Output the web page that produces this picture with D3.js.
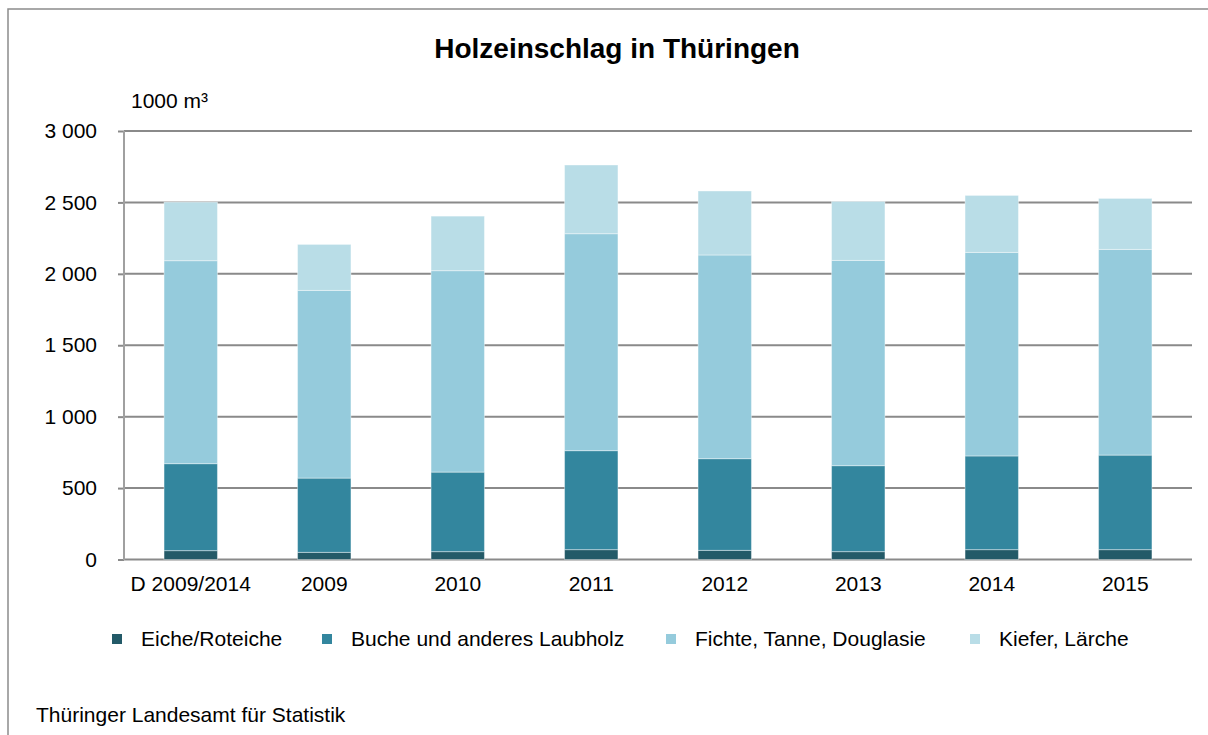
<!DOCTYPE html>
<html lang="de">
<head>
<meta charset="UTF-8">
<title>Holzeinschlag in Thüringen</title>
<script src="https://d3js.org/d3.v7.min.js"></script>
<style>
  body { margin: 0; background: #fff; }
  svg text { font-family: "Liberation Sans", Arial, sans-serif; fill: #000; }
</style>
</head>
<body>
<div id="chart"></div>
<script>
// categories and values (1000 m³)
var categories = ["D 2009/2014", "2009", "2010", "2011", "2012", "2013", "2014", "2015"];
var seriesNames = ["Eiche/Roteiche", "Buche und anderes Laubholz", "Fichte, Tanne, Douglasie", "Kiefer, Lärche"];
var eiche  = [62, 50, 55, 69, 64, 55, 69, 69];
var buche  = [609, 520, 557, 693, 642, 602, 656, 662];
var fichte = [1421, 1314, 1410, 1519, 1426, 1437, 1425, 1440];
var kiefer = [410, 322, 382, 481, 448, 413, 399, 357];
var yTicks = [0, 500, 1000, 1500, 2000, 2500, 3000];
var colors = ["#235a68", "#33869e", "#95cbdc", "#b9dde7"];

var width = 1208, height = 735;
var svg = d3.select("#chart").append("svg")
  .attr("width", width)
  .attr("height", height);

// outer frame (right and bottom edges fall outside the picture)
svg.append("rect")
  .attr("x", 8).attr("y", 9)
  .attr("width", 1205).attr("height", 760)
  .attr("fill", "none")
  .attr("stroke", "#8c8c8c")
  .attr("stroke-width", 1.5);

var x = d3.scaleBand()
  .domain(categories)
  .range([124, 1192])
  .paddingInner(0.6)
  .paddingOuter(0.3);

var y = d3.scaleLinear()
  .domain([0, 3000])
  .range([559.5, 131]);

var de = d3.formatLocale({ decimal: ",", thousands: " ", grouping: [3], currency: ["", ""] });
var fmt = de.format(",");

// gridlines
svg.append("g").selectAll("line")
  .data(yTicks)
  .enter().append("line")
  .attr("x1", 124).attr("x2", 1192)
  .attr("y1", function(d) { return y(d); })
  .attr("y2", function(d) { return y(d); })
  .attr("stroke", "#8a8a8a")
  .attr("stroke-width", 2);

// y axis
var yAxis = svg.append("g")
  .attr("transform", "translate(124,0)")
  .call(d3.axisLeft(y).tickValues(yTicks).tickFormat(fmt).tickSize(6).tickPadding(21));
yAxis.select(".domain").remove();
yAxis.selectAll(".tick line").attr("stroke", "#8a8a8a").attr("stroke-width", 2);
yAxis.selectAll("text").style("font-size", "21px").attr("fill", "#000");

svg.append("line")
  .attr("x1", 124).attr("x2", 124)
  .attr("y1", 131).attr("y2", 560)
  .attr("stroke", "#a0a0a0")
  .attr("stroke-width", 2);

// stacked bars
var rows = categories.map(function(c, i) {
  var r = { cat: c };
  r[seriesNames[0]] = eiche[i];
  r[seriesNames[1]] = buche[i];
  r[seriesNames[2]] = fichte[i];
  r[seriesNames[3]] = kiefer[i];
  return r;
});
var stacked = d3.stack().keys(seriesNames)(rows);

svg.append("g").selectAll("g")
  .data(stacked)
  .enter().append("g")
  .attr("fill", function(d, i) { return colors[i]; })
  .selectAll("rect")
  .data(function(d) { return d; })
  .enter().append("rect")
  .attr("x", function(d) { return x(d.data.cat); })
  .attr("width", x.bandwidth())
  .attr("y", function(d) { return y(d[1]); })
  .attr("height", function(d) { return y(d[0]) - y(d[1]); })
  .attr("stroke", "rgba(255,255,255,0.4)")
  .attr("stroke-width", 1);

// x axis labels
var xAxis = svg.append("g")
  .attr("transform", "translate(0,559.5)")
  .call(d3.axisBottom(x).tickSize(0).tickPadding(17));
xAxis.select(".domain").remove();
xAxis.selectAll("text").style("font-size", "21px").attr("fill", "#000");

// title and unit
svg.append("text")
  .attr("x", 617).attr("y", 57.5)
  .attr("text-anchor", "middle")
  .style("font-size", "28px")
  .style("font-weight", "bold")
  .text("Holzeinschlag in Thüringen");

svg.append("text")
  .attr("x", 131).attr("y", 108)
  .style("font-size", "21px")
  .text("1000 m³");

// legend
var legendX = [112, 322, 666, 970];
var legend = svg.append("g").selectAll("g")
  .data(seriesNames)
  .enter().append("g")
  .attr("transform", function(d, i) { return "translate(" + legendX[i] + ",634)"; });
legend.append("rect")
  .attr("width", 10).attr("height", 10)
  .attr("fill", function(d, i) { return colors[i]; });
legend.append("text")
  .attr("x", 29).attr("y", 11.7)
  .style("font-size", "21px")
  .text(function(d) { return d; });

// source
svg.append("text")
  .attr("x", 36).attr("y", 722)
  .style("font-size", "21px")
  .text("Thüringer Landesamt für Statistik");
</script>
</body>
</html>
